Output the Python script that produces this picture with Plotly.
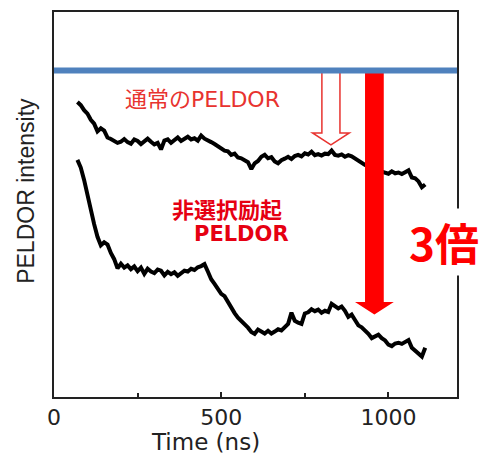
import plotly.graph_objects as go

# ---- data ----
time_ns = list(range(70, 1120, 10))

normal_peldor = [
    76.6, 75.8, 74.5, 73.6, 72.0, 71.0, 69.0, 69.8, 69.2, 67.4,
    67.0, 66.4, 66.0, 66.3, 67.0, 66.2, 65.8, 66.9, 66.5, 65.7,
    66.4, 67.1, 66.3, 65.6, 66.0, 64.3, 66.6, 66.9, 66.0, 66.8,
    67.4, 66.5, 67.0, 67.6, 66.9, 67.2, 66.6, 67.9, 67.1, 66.5,
    66.2, 65.7, 65.2, 64.6, 64.0, 63.8, 62.9, 63.2, 62.2, 62.0,
    61.4, 61.0, 59.2, 60.7, 61.3, 62.4, 62.9, 62.0, 62.3, 61.2,
    60.7, 61.5, 61.9, 62.4, 61.8, 62.6, 62.9, 62.5, 63.3, 63.0,
    63.7, 62.8, 63.1, 62.7, 63.2, 63.1, 64.0, 62.9, 62.7, 63.0,
    62.4, 62.8, 62.5, 61.9, 61.2, 60.8, 60.3, 60.0, 59.4, 59.1,
    58.8, 58.6, 58.4, 58.0, 58.6, 58.1, 58.3, 57.9, 58.4, 58.9,
    57.0, 56.8, 56.0, 54.5, 55.2,
]

nonselective_peldor = [
    61.6, 59.6, 56.4, 52.2, 48.0, 44.9, 41.6, 39.4, 40.2, 39.6,
    37.4, 35.8, 33.4, 34.6, 33.6, 34.2, 33.2, 33.9, 32.7, 33.6,
    32.0, 33.3, 32.6, 32.2, 33.1, 32.8, 31.6, 32.5, 31.9, 32.4,
    31.5, 32.3, 32.8, 32.6, 33.3, 33.0, 33.7, 34.0, 34.5, 32.6,
    30.6, 29.4, 28.3, 26.8, 26.2, 24.6, 23.0, 21.8, 20.6, 19.8,
    18.8, 18.0, 16.9, 16.4, 17.5, 17.0, 16.5, 17.2, 16.5, 17.0,
    17.6, 17.3, 18.3, 19.0, 21.9, 19.8, 19.3, 19.0, 21.7, 22.0,
    22.8, 22.3, 22.7, 21.9, 22.4, 22.1, 24.2, 23.6, 23.0, 23.5,
    22.4, 20.8, 21.4, 20.0, 18.6, 18.1, 17.3, 16.4, 15.3, 15.8,
    16.2, 15.3, 14.7, 13.6, 13.2, 13.9, 14.1, 13.8, 14.2, 14.8,
    12.8, 12.0, 11.2, 10.5, 12.8,
]

reference_level = 84.8
x_tick_vals = [0, 500, 1000]
x_tick_text = ["0", "500", "1000"]

# arrows (data units)
hollow_arrow = dict(x=828, shaft_half=27, head_half=55, top=84.9, head_top=68.6, tip=65.5)
solid_arrow = dict(x=958, shaft_half=28, head_half=58, top=84.8, head_top=24.7, tip=21.4)

fig = go.Figure()

fig.add_trace(go.Scatter(x=time_ns, y=normal_peldor, mode="lines",
                         line=dict(color="black", width=4), showlegend=False))
fig.add_trace(go.Scatter(x=time_ns, y=nonselective_peldor, mode="lines",
                         line=dict(color="black", width=4), showlegend=False))


def arrow_path(a):
    return (f"M {a['x']-a['shaft_half']},{a['top']} L {a['x']-a['shaft_half']},{a['head_top']} "
            f"L {a['x']-a['head_half']},{a['head_top']} L {a['x']},{a['tip']} "
            f"L {a['x']+a['head_half']},{a['head_top']} L {a['x']+a['shaft_half']},{a['head_top']} "
            f"L {a['x']+a['shaft_half']},{a['top']} Z")


fig.add_shape(type="path", path=arrow_path(hollow_arrow), xref="x", yref="y", layer="above",
              fillcolor="white", line=dict(color="#E8332F", width=1.5))
fig.add_shape(type="path", path=arrow_path(solid_arrow), xref="x", yref="y", layer="above",
              fillcolor="#FF0000", line=dict(color="#FF0000", width=0))

# blue reference line
fig.add_shape(type="line", xref="paper", yref="y", x0=0, x1=1,
              y0=reference_level, y1=reference_level, layer="above",
              line=dict(color="#4F81BD", width=6))

fig.add_annotation(x=206, y=77.4, xref="x", yref="y", xanchor="left", yanchor="middle",
                   text="通常のPELDOR", showarrow=False,
                   font=dict(family="DejaVu Sans, Noto Sans CJK JP", size=22, color="#E8332F"))
fig.add_annotation(x=517, y=49.0, xref="x", yref="y", xanchor="center", yanchor="middle",
                   text="<b>非選択励起</b>", showarrow=False,
                   font=dict(family="Noto Sans CJK JP", size=22, color="#E60012"))
fig.add_annotation(x=562, y=42.4, xref="x", yref="y", xanchor="center", yanchor="middle",
                   text="<b>PELDOR</b>", showarrow=False,
                   font=dict(family="DejaVu Sans", size=21, color="#E60012"))
fig.add_annotation(x=1166, y=40.3, xref="x", yref="y", xanchor="center", yanchor="middle",
                   text="<b>3倍</b>", showarrow=False, bgcolor="white",
                   font=dict(family="Noto Sans CJK JP", size=44, color="#FF0000"))

# axis titles
fig.add_annotation(x=0.377, y=-0.116, xref="paper", yref="paper", xanchor="center", yanchor="middle",
                   text="Time (ns)", showarrow=False,
                   font=dict(family="DejaVu Sans", size=23, color="#222"))
fig.add_annotation(x=-0.07, y=0.535, xref="paper", yref="paper", xanchor="center", yanchor="middle",
                   text="PELDOR intensity", showarrow=False, textangle=-90,
                   font=dict(family="Liberation Sans, Arial", size=23, color="#222"))

fig.update_layout(
    width=492, height=457,
    margin=dict(l=54, r=35, t=12, b=60),
    paper_bgcolor="white", plot_bgcolor="white",
    xaxis=dict(
        range=[0, 1205], tickvals=x_tick_vals, ticktext=x_tick_text,
        ticks="inside", ticklen=5, tickwidth=1.5, tickcolor="#222",
        minor=dict(dtick=250, ticks="inside", ticklen=4, tickwidth=1.5, tickcolor="#222"),
        showline=True, linecolor="#222", linewidth=2, mirror=True,
        showgrid=False, zeroline=False, automargin=False,
        tickfont=dict(family="DejaVu Sans", size=22, color="#222"),
    ),
    yaxis=dict(
        range=[0, 100], showticklabels=False, ticks="",
        showline=True, linecolor="#222", linewidth=2, mirror=True,
        showgrid=False, zeroline=False, automargin=False,
    ),
)

fig.write_html("out.html", config={"displayModeBar": False},
               post_script="document.body.style.margin='0px';")
